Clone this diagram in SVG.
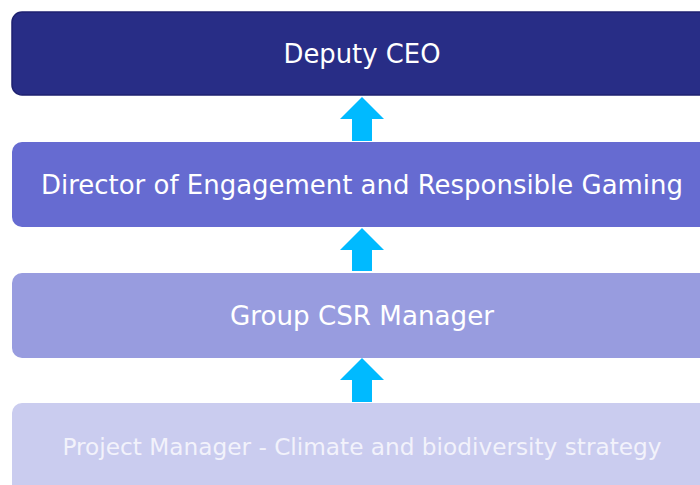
<svg xmlns="http://www.w3.org/2000/svg" width="700" height="485" viewBox="0 0 700 485">
<style>
.lbl{font-family:"DejaVu Sans","Verdana",sans-serif;font-size:26px;fill:#ffffff;text-anchor:middle}
.arr{fill:#00BAFF}
</style>
<rect width="700" height="485" fill="#ffffff"/>
<g id="connectors">
<path class="arr" d="M362,97 L384,119 L372,119 L372,141 L352,141 L352,119 L340,119 Z"/>
<path class="arr" d="M362,228 L384,250 L372,250 L372,271 L352,271 L352,250 L340,250 Z"/>
<path class="arr" d="M362,358 L384,380 L372,380 L372,402 L352,402 L352,380 L340,380 Z"/>
</g>
<g id="deputy-ceo">
<rect x="12" y="12" width="700" height="83" rx="10" fill="#282D86" stroke="#1E2170" stroke-width="1.5"/>
<text class="lbl" x="362" y="63" textLength="157" lengthAdjust="spacingAndGlyphs">Deputy CEO</text>
</g>
<g id="director">
<rect x="12" y="142" width="700" height="85" rx="10" fill="#666BD1"/>
<text class="lbl" x="362" y="194" textLength="642" lengthAdjust="spacingAndGlyphs">Director of Engagement and Responsible Gaming</text>
</g>
<g id="csr-manager">
<rect x="12" y="273" width="700" height="85" rx="10" fill="#989CDF"/>
<text class="lbl" x="362" y="325" textLength="264" lengthAdjust="spacingAndGlyphs">Group CSR Manager</text>
</g>
<g id="project-manager">
<rect x="12" y="403" width="700" height="100" rx="10" fill="#CACCEF"/>
<text class="lbl" x="362" y="455" textLength="599" lengthAdjust="spacingAndGlyphs" style="font-size:23px;fill:#F2F2FB">Project Manager - Climate and biodiversity strategy</text>
</g>
</svg>
